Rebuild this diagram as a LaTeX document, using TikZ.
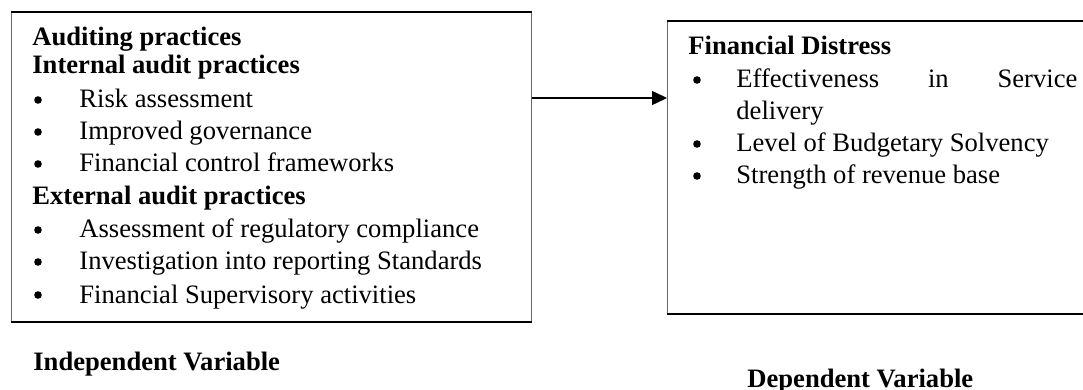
\documentclass[tikz,border=0pt]{standalone}
\usepackage{fontspec}
\setmainfont{Liberation Serif}
\usetikzlibrary{arrows.meta}
\begin{document}
\begin{tikzpicture}[x=0.5pt,y=-0.5pt,
  box/.style={draw=black!60, line width=0.5pt, inner sep=0pt, fill=none},
  edge/.style={draw=black, line width=0.9pt},
  txt/.style={anchor=base west, inner sep=0pt, font=\fontsize{13.3}{16}\selectfont},
  head/.style={txt, font=\fontsize{13.3}{16}\selectfont\bfseries},
  dot/.style={circle, fill=black, inner sep=0pt, minimum size=3.8pt},
  conn/.style={line width=0.75pt, -{Triangle[length=7.5pt,width=7pt]}}]
\useasboundingbox (0,0) rectangle (1083,390);
% boxes
\node[box, anchor=north west, minimum width=260pt, minimum height=154.5pt] (L) at (11,12) {};
\node[box, anchor=north west, minimum width=230pt, minimum height=146pt] (R) at (667,21) {};
\draw[edge] (L.north west) -- (L.north east);
\draw[edge] (L.south west) -- (L.south east);
\draw[edge] (R.north west) -- (R.north east);
\draw[edge] (R.south west) -- (R.south east);
% connector
\draw[conn] (L.east |- 0,98) -- (R.west |- 0,98);
% left box text
\node[head] (l1) at (32,46) {Auditing practices};
\node[head] (l2) at (32,74) {Internal audit practices};
\node[dot] (b1) at (38,100) {};
\node[txt] (t1) at (79,108) {Risk assessment};
\node[dot] (b2) at (38,132) {};
\node[txt] (t2) at (79,140) {Improved governance};
\node[dot] (b3) at (38,164) {};
\node[txt] (t3) at (79,172) {Financial control frameworks};
\node[head] (l3) at (32,205) {External audit practices};
\node[dot] (b4) at (38,230) {};
\node[txt] (t4) at (79,238) {Assessment of regulatory compliance};
\node[dot] (b5) at (38,262) {};
\node[txt] (t5) at (79,270) {Investigation into reporting Standards};
\node[dot] (b6) at (38,295) {};
\node[txt] (t6) at (79,303) {Financial Supervisory activities};
% right box text
\node[head] (r1) at (688,55) {Financial Distress};
\node[dot] (rb1) at (697,80) {};
\node[txt] (rt1) at (736,88) {\hbox to 170.5pt{Effectiveness\hfill in\hfill Service}};
\node[txt] (rt1b) at (736,120) {delivery};
\node[dot] (rb2) at (697,144) {};
\node[txt] (rt2) at (736,152) {Level of Budgetary Solvency};
\node[dot] (rb3) at (697,176) {};
\node[txt] (rt3) at (736,184) {Strength of revenue base};
% captions
\node[head] (iv) at (33,370) {Independent Variable};
\node[head] (dv) at (747,387) {Dependent Variable};
\end{tikzpicture}
\end{document}
